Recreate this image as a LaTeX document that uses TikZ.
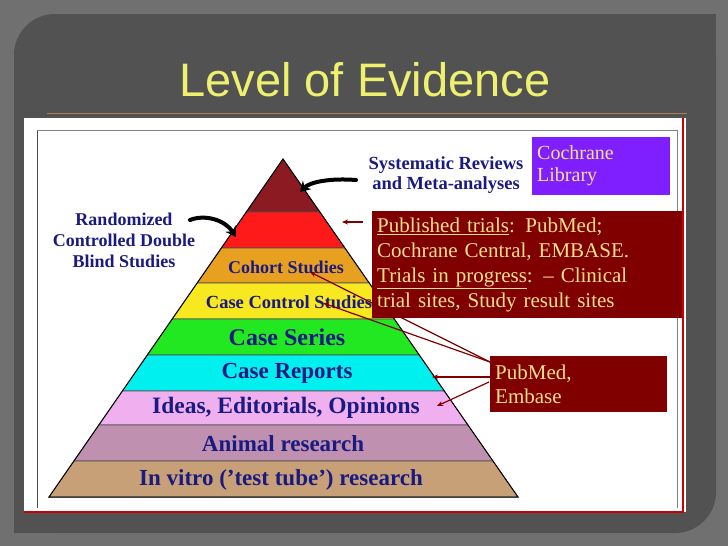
\documentclass[tikz,border=0pt]{standalone}
\usepackage{fontspec}
\setmainfont{Liberation Serif}
\newfontfamily\titlefont{Liberation Sans}
\usetikzlibrary{arrows.meta}
\definecolor{bg}{HTML}{707070}
\definecolor{panel}{HTML}{525252}
\definecolor{ttl}{HTML}{EEF070}
\definecolor{navy}{HTML}{1A1A80}
\definecolor{boxred}{HTML}{800000}
\definecolor{boxtxt}{HTML}{F5E08A}
\definecolor{purp}{HTML}{7F1FFF}
\definecolor{c1}{HTML}{8B1A22}
\definecolor{c2}{HTML}{FF1A1A}
\definecolor{c3}{HTML}{E8A020}
\definecolor{c4}{HTML}{F8E820}
\definecolor{c5}{HTML}{22E822}
\definecolor{c6}{HTML}{00F0F0}
\definecolor{c7}{HTML}{F0B0F0}
\definecolor{c8}{HTML}{C090B0}
\definecolor{c9}{HTML}{C8A078}
\tikzset{
 lbl/.style={text=navy, inner sep=0pt},
 infobox/.style={fill=boxred, text=boxtxt, anchor=north west, align=left, inner sep=5pt},
 redarr/.style={draw=boxred, line width=1.2pt, -{Stealth[length=6pt,width=5pt]}},
 blackarr/.style={draw=black, line width=4pt, line cap=round, -{Stealth[length=10pt,width=12pt]}}
}
\begin{document}
\begin{tikzpicture}[x=1pt,y=-1pt]
\useasboundingbox (0,0) rectangle (728,546);
\fill[bg] (0,0) rectangle (728,546);
\fill[panel, rounded corners=41pt] (14,14) rectangle (716,533);
\fill[panel] (670,14) rectangle (716,60);
\fill[panel] (14,487) rectangle (60,533);
\node[font=\titlefont\fontsize{47}{50}\selectfont, text=ttl] (title) at (365,80) {Level of Evidence};
\draw[color=brown!70!gray, line width=1pt] (47,113) -- (687,113);
\fill[white] (24,118) rectangle (686,512);
\draw[red!80!black, line width=2pt] (683,118) -- (683,512) -- (24,512);
\draw[gray!60!black, line width=0.8pt] (37,130) -- (37,508);
\draw[gray, line width=0.6pt] (37,130) -- (677,130) -- (677,508);
% pyramid bands
\def\L#1{283-(#1-159)/338*234}
\def\R#1{283+(#1-159)/338*235}
\foreach \a/\b/\c in {159/212/c1,212/248/c2,248/283/c3,283/319/c4,319/355/c5,355/391/c6,391/425/c7,425/461/c8,461/497/c9}{
  \fill[\c, draw=black!70, line width=0.6pt] ({\L{\a}},\a) -- ({\R{\a}},\a) -- ({\R{\b}},\b) -- ({\L{\b}},\b) -- cycle;
}
\draw[black, line width=1pt] (283,159) -- (49,497) -- (518,497) -- cycle;
\node[lbl, font=\bfseries\fontsize{18}{20}\selectfont] (coh) at (286,267) {Cohort Studies};
\node[lbl, font=\bfseries\fontsize{18.5}{20}\selectfont] (cc) at (289,302) {Case Control Studies};
\node[lbl, font=\bfseries\fontsize{24}{26}\selectfont] (cs) at (287,337) {Case Series};
\node[lbl, font=\bfseries\fontsize{23}{26}\selectfont] (cr) at (287,373) {Case Reports};
\node[lbl, font=\bfseries\fontsize{23.5}{26}\selectfont] (ideas) at (286,408) {Ideas, Editorials, Opinions};
\node[lbl, font=\bfseries\fontsize{23}{26}\selectfont] (anim) at (283,444) {Animal research};
\node[lbl, font=\bfseries\fontsize{23}{26}\selectfont] (vitro) at (281,480) {In vitro ({\char39}test tube{\char39}) research};
\node[lbl, align=center, font=\bfseries\fontsize{18}{21}\selectfont] (rand) at (124,240) {Randomized\\Controlled Double\\Blind Studies};
\node[lbl, align=center, font=\bfseries\fontsize{18.5}{20}\selectfont] (sys) at (446,175) {Systematic Reviews\\and Meta-analyses};
\node[infobox, fill=purp, text width=128pt, minimum height=58pt, font=\fontsize{20}{22}\selectfont] (coch) at (532,137) {Cochrane\\Library};
\node[infobox, text width=300pt, minimum height=107pt, font=\fontsize{21}{25}\selectfont] (pub) at (372,211) {\underline{Published trials}: PubMed;\\Cochrane Central, EMBASE.\\\underline{Trials in progress}: -- Clinical\\trial sites, Study result sites};
\node[infobox, text width=167pt, minimum height=56pt, font=\fontsize{21}{24}\selectfont] (pm) at (490,356) {PubMed,\\Embase};
% arrows
\coordinate (topT) at (300,192);
\coordinate (redT) at (236,237);
\draw[blackarr] (356,180) .. controls (330,178) and (310,182) .. (topT);
\draw[blackarr] (190,220) .. controls (205,214) and (225,220) .. (redT);
\coordinate (pa) at (363,222);
\coordinate (pb) at (342,222);
\draw[redarr] (pa) -- (pb);
\coordinate (o1) at (490,362);
\coordinate (o2) at (490,377);
\coordinate (o3) at (489,382);
\coordinate (t1) at (310,272);
\coordinate (t2) at (323,303);
\coordinate (t3) at (432,377);
\coordinate (t4) at (437,406);
\draw[redarr] (o1) -- (t1);
\draw[redarr] (o1) -- (t2);
\draw[redarr] (o2) -- (t3);
\draw[redarr] (o3) -- (t4);
\end{tikzpicture}
\end{document}
